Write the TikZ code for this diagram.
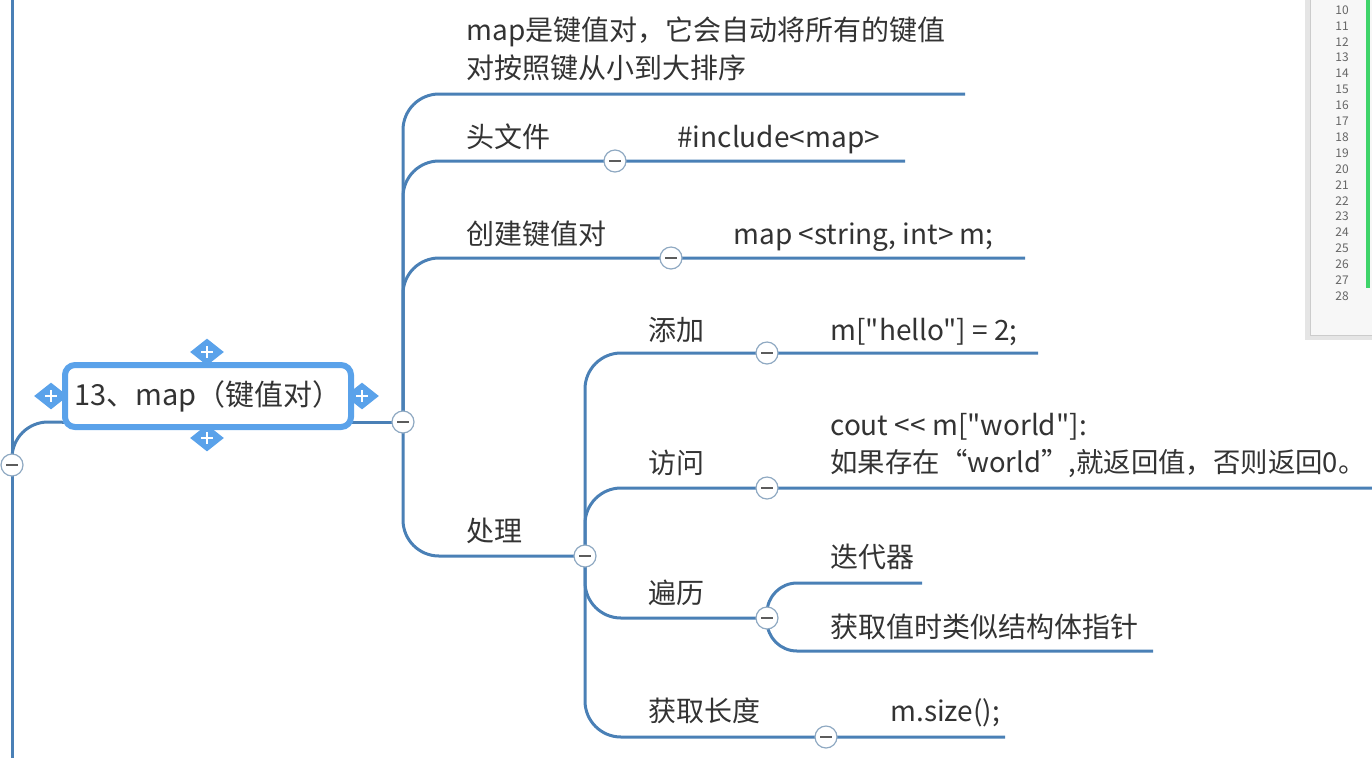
\documentclass[tikz,border=0pt]{standalone}
\usepackage{fontspec}
\setmainfont{Noto Sans CJK SC}[Ligatures=TeXOff]
\usetikzlibrary{shapes.geometric}
\definecolor{linkblue}{HTML}{4A80B6}
\definecolor{selblue}{HTML}{5AA2EA}
\definecolor{txtgray}{HTML}{333333}
\definecolor{ringgray}{HTML}{8FA9C2}
\definecolor{codegreen}{HTML}{3FD46A}

\begin{document}
\begin{tikzpicture}[x=0.5pt, y=-0.5pt,
    branch/.style={draw=linkblue, line width=1.5pt, rounded corners=18pt},
    topic/.style={anchor=base west, inner sep=0pt, text=txtgray, font=\fontsize{14}{19}\selectfont},
    collapse/.style={circle, draw=ringgray, line width=0.6pt, fill=white, minimum size=11pt, inner sep=0pt,
      path picture={\draw[txtgray!80, line width=1pt] ([xshift=-2.8pt]path picture bounding box.center) -- ([xshift=2.8pt]path picture bounding box.center);}},
    handle/.style={diamond, fill=selblue, minimum width=17pt, minimum height=13.5pt, inner sep=0pt,
      path picture={\draw[white, line width=1.1pt] ([xshift=-2.8pt]path picture bounding box.center) -- ([xshift=2.8pt]path picture bounding box.center)
        ([yshift=-2.8pt]path picture bounding box.center) -- ([yshift=2.8pt]path picture bounding box.center);}},
    rootbox/.style={draw=selblue, line width=3pt, rounded corners=5pt, fill=white, minimum width=143pt, minimum height=31pt,
      text=txtgray, font=\fontsize{14.5}{17}\selectfont}]
    \useasboundingbox (0,0) rectangle (1372,757);

    % code editor at the right edge
    \fill[black!10] (1305,-5) rectangle (1372,340);
    \draw[fill=black!3, draw=black!20] (1310,-5) rectangle (1380,335);
    \fill[codegreen] (1366,-5) rectangle (1370,288);
    \foreach \n [count=\i from 0] in {10,...,28}
      \node[text=black!60, font=\fontsize{6}{7}\selectfont, inner sep=0pt] (ln\n) at (1342,{10+\i*15.9}) {\n};

    % junctions and line ends
    \coordinate (ltop) at (12,-5);
    \coordinate (lbot) at (12,762);
    \coordinate (lj) at (12,465);
    \coordinate (rl) at (62,422);
    \coordinate (mj) at (403,422);
    \coordinate (e1) at (965,94);
    \coordinate (e2) at (905,161);
    \coordinate (e3) at (1025,258);
    \coordinate (pj) at (585,556);
    \coordinate (f1) at (1038,353);
    \coordinate (f2) at (1372,488);
    \coordinate (f3) at (767,618);
    \coordinate (f4) at (1005,737);
    \coordinate (g1) at (922,583);
    \coordinate (g2) at (1153,651);

    \draw[branch] (ltop) -- (lbot);
    \draw[branch] (lj) |- (rl);
    \draw[branch] (rl) -- (mj);
    \draw[branch] (mj) |- (e1);
    \draw[branch] (mj) |- (e2);
    \draw[branch] (mj) |- (e3);
    \draw[branch] (mj) |- (pj);
    \draw[branch] (pj) |- (f1);
    \draw[branch] (pj) |- (f2);
    \draw[branch] (pj) |- (f3);
    \draw[branch] (pj) |- (f4);
    \draw[branch, rounded corners=15pt] (f3) |- (g1);
    \draw[branch, rounded corners=15pt] (f3) |- (g2);

    % central topic
    \node[handle] (htop) at (207,352) {};
    \node[handle] (hbot) at (207,438) {};
    \node[handle] (hleft) at (51,396) {};
    \node[handle] (hright) at (362,396) {};
    \node[rootbox] (root) at (208,396) {13、map（键值对）};

    \node[collapse] (lm) at (lj) {};
    \node[collapse] (mm) at (mj) {};
    \node[collapse] (m2) at (615,161) {};
    \node[collapse] (m3) at (671,258) {};
    \node[collapse] (pm) at (pj) {};
    \node[collapse] (s1) at (767,353) {};
    \node[collapse] (s2) at (767,488) {};
    \node[collapse] (s3) at (f3) {};
    \node[collapse] (s4) at (826,737) {};

    % topics
    \node[topic] (desc) at (466,40) {map是键值对，它会自动将所有的键值};
    \node[topic] (desc2) at (466,78) {对按照键从小到大排序};
    \node[topic] (head) at (466,147) {头文件};
    \node[topic] (headv) at (677,147) {\#include<map>};
    \node[topic] (make) at (466,244) {创建键值对};
    \node[topic] (makev) at (733,244) {map <string, int> m;};
    \node[topic] (proc) at (466,541) {处理};
    \node[topic] (add) at (648,340) {添加};
    \node[topic] (addv) at (830,340) {m["hello"] = 2;};
    \node[topic] (visit) at (648,473) {访问};
    \node[topic] (visitv) at (830,435) {cout << m["world"]:};
    \node[topic, font=\fontsize{13.7}{19}\selectfont] (visitw) at (830,472) {如果存在“world”,就返回值，否则返回0。};
    \node[topic] (walk) at (648,603) {遍历};
    \node[topic] (walka) at (830,567) {迭代器};
    \node[topic] (walkb) at (830,637) {获取值时类似结构体指针};
    \node[topic] (len) at (648,721) {获取长度};
    \node[topic] (lenv) at (890,721) {m.size();};
\end{tikzpicture}
\end{document}
